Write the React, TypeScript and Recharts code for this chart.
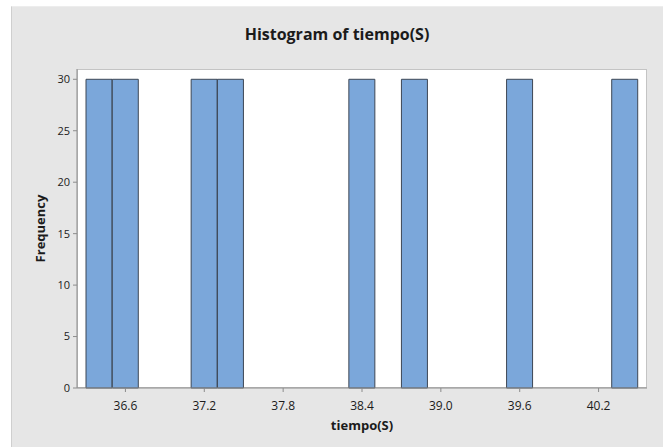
import { Bar, BarChart, Cell, XAxis, YAxis } from 'recharts'

// histogram bins (midpoints, width 0.2) and their counts
const BIN_MIDPOINTS = [
  '36.4', '36.6', '36.8', '37.0', '37.2', '37.4', '37.6', '37.8', '38.0', '38.2', '38.4',
  '38.6', '38.8', '39.0', '39.2', '39.4', '39.6', '39.8', '40.0', '40.2', '40.4',
]
const FREQUENCY = [30, 30, 0, 0, 30, 30, 0, 0, 0, 0, 30, 0, 30, 0, 0, 0, 30, 0, 0, 0, 30]
const X_TICKS = ['36.6', '37.2', '37.8', '38.4', '39.0', '39.6', '40.2']
const Y_TICKS = [0, 5, 10, 15, 20, 25, 30]

const data = BIN_MIDPOINTS.map((bin, i) => ({ bin, freq: FREQUENCY[i] }))

const FONT = '"Open Sans", "Noto Sans", sans-serif'
const TEXT = '#1b1b1b'
const AXIS = '#8c8c8c'

function XTick(props: any) {
  const { x, y, payload } = props
  if (!X_TICKS.includes(payload.value)) return null
  return (
    <g>
      <line x1={x} x2={x} y1={y - 8} y2={y - 4} stroke={AXIS} />
      <text x={x} y={y + 14} textAnchor="middle" fontSize={12} fill={TEXT} fontFamily={FONT}>
        {payload.value}
      </text>
    </g>
  )
}

export default function App() {
  return (
    <div style={{ position: 'absolute', left: 0, top: 0, width: 663, height: 447, background: '#fff' }}>
      <div
        style={{
          position: 'absolute',
          left: 11,
          top: 6,
          right: 0,
          bottom: 0,
          background: '#e6e6e6',
          borderLeft: '1px solid #cfcfcf',
          borderTop: '1px solid #ededed',
        }}
      />
      <div
        style={{
          position: 'absolute',
          left: 77,
          top: 69,
          width: 570,
          height: 319,
          background: '#fff',
          border: '1px solid #c4c4c4',
          boxSizing: 'border-box',
        }}
      />
      <div
        style={{
          position: 'absolute',
          left: 11,
          width: 652,
          top: 23,
          textAlign: 'center',
          fontFamily: FONT,
          fontWeight: 700,
          fontSize: 16,
          color: TEXT,
        }}
      >
        Histogram of tiempo(S)
      </div>
      <BarChart
        width={663}
        height={447}
        data={data}
        barCategoryGap={0}
        margin={{ top: 69, right: 16, bottom: 29, left: 27 }}
        style={{ position: 'absolute', left: 0, top: 0 }}
      >
        <XAxis
          dataKey="bin"
          interval={0}
          padding={{ left: 9, right: 9 }}
          height={30}
          axisLine={{ stroke: AXIS }}
          tickLine={false}
          tick={<XTick />}
          label={{
            value: 'tiempo(S)',
            position: 'bottom',
            offset: 3,
            style: { fontFamily: FONT, fontWeight: 700, fontSize: 13, fill: TEXT },
          }}
        />
        <YAxis
          width={50}
          domain={[0, 31]}
          ticks={Y_TICKS}
          interval={0}
          tickSize={4}
          tickMargin={3}
          axisLine={{ stroke: AXIS }}
          tickLine={{ stroke: AXIS }}
          tick={{ fontSize: 11, fill: TEXT, fontFamily: FONT }}
          label={{
            value: 'Frequency',
            angle: -90,
            position: 'insideLeft',
            offset: 13,
            style: { textAnchor: 'middle', fontFamily: FONT, fontWeight: 700, fontSize: 13, fill: TEXT },
          }}
        />
        <Bar dataKey="freq" isAnimationActive={false} fill="#7ba7da" stroke="#3d4755" strokeWidth={1}>
          {data.map((d) => (
            <Cell key={d.bin} />
          ))}
        </Bar>
      </BarChart>
    </div>
  )
}
